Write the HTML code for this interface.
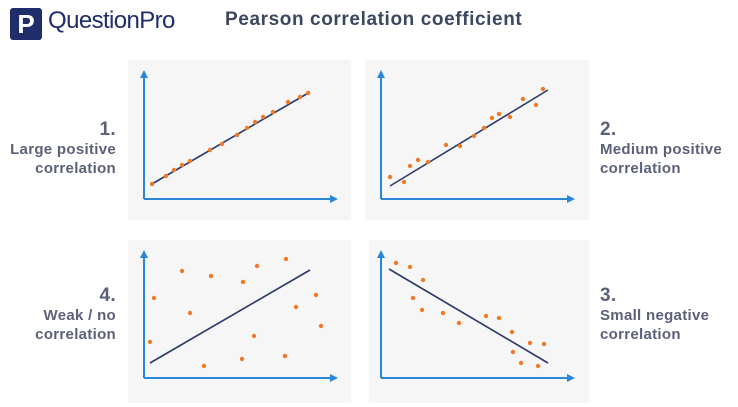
<!DOCTYPE html>
<html><head><style>
body{margin:0;width:738px;height:407px;background:#fff;overflow:hidden;position:relative;font-family:"Liberation Sans",sans-serif}
.p{position:absolute;background:#f6f6f6}
.l{position:absolute;color:#5b6178;font-weight:bold;font-size:15px;line-height:19px;letter-spacing:0.3px}
.l b{font-size:19px;display:block;line-height:21px}
</style></head><body>
<div style="position:absolute;left:10px;top:8px;width:32px;height:32px;background:#1f2d6b;border-radius:3px;color:#fff;font-weight:bold;font-size:26px;text-align:center;line-height:32px">P</div>
<div style="position:absolute;left:48px;top:7px;font-size:24px;color:#1f2d6b;letter-spacing:-0.6px">QuestionPro</div>
<div style="position:absolute;left:225px;top:9px;font-size:19px;font-weight:bold;color:#3c4760;letter-spacing:0.6px">Pearson correlation coefficient</div>
<div class="p" style="left:128px;top:60px;width:223px;height:160px"></div>
<div class="p" style="left:365px;top:60px;width:224px;height:160px"></div>
<div class="p" style="left:128px;top:240px;width:223px;height:163px"></div>
<div class="p" style="left:369px;top:240px;width:220px;height:163px"></div>
<div class="l" style="right:622px;top:119px;text-align:right"><b>1.</b>Large positive<br>correlation</div>
<div class="l" style="left:600px;top:119px"><b>2.</b>Medium positive<br>correlation</div>
<div class="l" style="right:622px;top:285px;text-align:right"><b>4.</b>Weak / no<br>correlation</div>
<div class="l" style="left:600px;top:285px"><b>3.</b>Small negative<br>correlation</div>
<svg width="738" height="407" style="position:absolute;left:0;top:0">
<defs><marker id="a" markerWidth="8" markerHeight="8" refX="6" refY="4" orient="auto" markerUnits="userSpaceOnUse"><path d="M0,0L8,4L0,8z" fill="#2a86d8"/></marker></defs>
<g stroke="#2a86d8" stroke-width="2" fill="none">
<path d="M144,199V72" marker-end="url(#a)"/><path d="M144,199H336" marker-end="url(#a)"/>
<path d="M381,199V72" marker-end="url(#a)"/><path d="M381,199H573" marker-end="url(#a)"/>
<path d="M144,378V252" marker-end="url(#a)"/><path d="M144,378H336" marker-end="url(#a)"/>
<path d="M381,378V252" marker-end="url(#a)"/><path d="M381,378H573" marker-end="url(#a)"/>
</g>
<g stroke="#2c3a6b" stroke-width="1.6">
<line x1="152" y1="184" x2="310" y2="92"/><line x1="390" y1="186" x2="548" y2="90"/>
<line x1="150" y1="363" x2="310" y2="270"/><line x1="389" y1="269" x2="548" y2="363"/>
</g>
<g fill="#ef7a2a">
<circle cx="152" cy="184" r="2.2"/><circle cx="166" cy="176" r="2.2"/><circle cx="174" cy="170" r="2.2"/><circle cx="182" cy="165" r="2.2"/><circle cx="190" cy="161" r="2.2"/><circle cx="210" cy="150" r="2.2"/><circle cx="222" cy="144" r="2.2"/><circle cx="237" cy="135" r="2.2"/><circle cx="247" cy="128" r="2.2"/><circle cx="255" cy="122" r="2.2"/><circle cx="263" cy="117" r="2.2"/><circle cx="273" cy="112" r="2.2"/><circle cx="288" cy="102" r="2.2"/><circle cx="300" cy="97" r="2.2"/><circle cx="308" cy="93" r="2.2"/>
<circle cx="390" cy="177" r="2.2"/><circle cx="404" cy="182" r="2.2"/><circle cx="410" cy="166" r="2.2"/><circle cx="418" cy="160" r="2.2"/><circle cx="428" cy="162" r="2.2"/><circle cx="446" cy="145" r="2.2"/><circle cx="460" cy="146" r="2.2"/><circle cx="474" cy="136" r="2.2"/><circle cx="484" cy="128" r="2.2"/><circle cx="492" cy="118" r="2.2"/><circle cx="499" cy="114" r="2.2"/><circle cx="510" cy="117" r="2.2"/><circle cx="523" cy="99" r="2.2"/><circle cx="536" cy="105" r="2.2"/><circle cx="543" cy="89" r="2.2"/>
<circle cx="396" cy="263" r="2.2"/><circle cx="410" cy="267" r="2.2"/><circle cx="423" cy="280" r="2.2"/><circle cx="413" cy="298" r="2.2"/><circle cx="422" cy="310" r="2.2"/><circle cx="443" cy="313" r="2.2"/><circle cx="459" cy="323" r="2.2"/><circle cx="486" cy="316" r="2.2"/><circle cx="499" cy="318" r="2.2"/><circle cx="512" cy="332" r="2.2"/><circle cx="513" cy="352" r="2.2"/><circle cx="530" cy="343" r="2.2"/><circle cx="544" cy="344" r="2.2"/><circle cx="521" cy="363" r="2.2"/><circle cx="538" cy="366" r="2.2"/>
<circle cx="154" cy="298" r="2.2"/><circle cx="150" cy="342" r="2.2"/><circle cx="182" cy="271" r="2.2"/><circle cx="211" cy="276" r="2.2"/><circle cx="190" cy="313" r="2.2"/><circle cx="204" cy="366" r="2.2"/><circle cx="243" cy="282" r="2.2"/><circle cx="257" cy="266" r="2.2"/><circle cx="242" cy="359" r="2.2"/><circle cx="254" cy="336" r="2.2"/><circle cx="286" cy="259" r="2.2"/><circle cx="285" cy="356" r="2.2"/><circle cx="296" cy="307" r="2.2"/><circle cx="316" cy="295" r="2.2"/><circle cx="321" cy="326" r="2.2"/>
</g>
</svg>
</body></html>
